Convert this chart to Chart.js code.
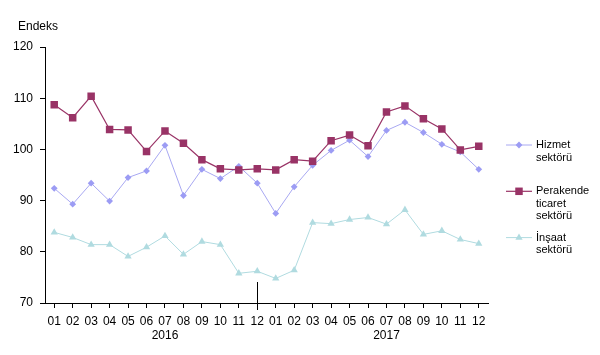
<!DOCTYPE html>
<html>
<head>
<meta charset="utf-8">
<script src="https://cdn.jsdelivr.net/npm/chart.js@4/dist/chart.umd.min.js"></script>
<style>
  html, body { margin: 0; padding: 0; background: #fff; }
  #wrap { width: 600px; height: 355px; position: relative; }
</style>
</head>
<body>
<div id="wrap"><canvas id="c" width="600" height="355"></canvas></div>
<script>
// ---- data ----
const months = ['01','02','03','04','05','06','07','08','09','10','11','12',
                '01','02','03','04','05','06','07','08','09','10','11','12'];
const yearLabels = { 6: '2016', 18: '2017' };
const separatorIndex = 11;
const hizmet = [92.4, 89.3, 93.4, 89.9, 94.5, 95.8, 100.8, 91.0, 96.1, 94.3, 96.7, 93.4,
                87.5, 92.7, 96.9, 99.8, 101.8, 98.6, 103.7, 105.3, 103.3, 101.0, 99.5, 96.1];
const perakende = [108.7, 106.2, 110.4, 103.9, 103.8, 99.6, 103.6, 101.2, 98.0, 96.2, 96.0, 96.2,
                   96.0, 98.0, 97.7, 101.7, 102.8, 100.7, 107.3, 108.5, 106.0, 104.0, 99.9, 100.6];
const insaat = [83.8, 82.8, 81.4, 81.4, 79.1, 80.9, 83.1, 79.5, 82.0, 81.4, 75.8, 76.2,
                74.8, 76.4, 85.7, 85.5, 86.3, 86.7, 85.4, 88.2, 83.4, 84.1, 82.4, 81.6];
const seriesNames = [['Hizmet','sektörü'], ['Perakende','ticaret','sektörü'], ['İnşaat','sektörü']];
const yTitle = 'Endeks';
const yMin = 70, yMax = 120, yStep = 10;

const labels = months.map((m, i) => yearLabels[i] ? [m, yearLabels[i]] : m);

const FONT = '"Liberation Sans", Arial, sans-serif';
const colHiz = '#9c9cf4', colHizLine = '#a8a8f2';
const colPer = '#993366';
const colIns = '#b0dbe0';

const extras = {
  id: 'extras',
  afterDraw(chart) {
    const ctx = chart.ctx;
    const ca = chart.chartArea;
    const xs = chart.scales.x;
    ctx.save();
    // y title
    ctx.fillStyle = '#000';
    ctx.font = '12px ' + FONT;
    ctx.textBaseline = 'middle';
    ctx.textAlign = 'left';
    ctx.fillText(yTitle, 18, 27);
    // year separator
    const sx = Math.round(xs.getPixelForValue(separatorIndex)) + 0.5;
    ctx.strokeStyle = '#000';
    ctx.lineWidth = 1;
    ctx.beginPath();
    ctx.moveTo(sx, ca.bottom - 21);
    ctx.lineTo(sx, ca.bottom + 7);
    ctx.stroke();
    // legend
    const lx0 = ca.right + 18, lx1 = ca.right + 44, tx = ca.right + 48;
    chart.data.datasets.forEach((ds, i) => {
      const y = 145 + i * 46.3;
      ctx.strokeStyle = ds.borderColor;
      ctx.lineWidth = ds.borderWidth;
      ctx.beginPath();
      ctx.moveTo(lx0, y); ctx.lineTo(lx1, y); ctx.stroke();
      const cx = (lx0 + lx1) / 2;
      ctx.fillStyle = ds.pointBackgroundColor;
      ctx.beginPath();
      const r = ds.pointRadius;
      if (ds.pointStyle === 'rect') {
        const s = r * Math.SQRT1_2;
        ctx.rect(cx - s, y - s, 2 * s, 2 * s);
      } else if (ds.pointStyle === 'rectRot') {
        ctx.moveTo(cx - r, y); ctx.lineTo(cx, y - r); ctx.lineTo(cx + r, y); ctx.lineTo(cx, y + r); ctx.closePath();
      } else {
        ctx.moveTo(cx, y - r); ctx.lineTo(cx + r * 0.866, y + r / 2); ctx.lineTo(cx - r * 0.866, y + r / 2); ctx.closePath();
      }
      ctx.fill();
      ctx.fillStyle = '#000';
      ctx.font = '11px ' + FONT;
      seriesNames[i].forEach((t, k) => ctx.fillText(t, tx, y + k * 12.5));
    });
    ctx.restore();
  }
};

new Chart(document.getElementById('c'), {
  type: 'line',
  data: {
    labels: labels,
    datasets: [
      { label: seriesNames[0].join(' '), data: hizmet, borderColor: colHizLine, borderWidth: 1,
        pointStyle: 'rectRot', pointRadius: 3.4, pointBackgroundColor: colHiz, pointBorderWidth: 0,
        pointBorderColor: colHiz, tension: 0, order: 2 },
      { label: seriesNames[1].join(' '), data: perakende, borderColor: colPer, borderWidth: 1.2,
        pointStyle: 'rect', pointRadius: 5.3, pointBackgroundColor: colPer, pointBorderWidth: 0,
        pointBorderColor: colPer, tension: 0, order: 1 },
      { label: seriesNames[2].join(' '), data: insaat, borderColor: colIns, borderWidth: 1,
        pointStyle: 'triangle', pointRadius: 4.2, pointBackgroundColor: colIns, pointBorderWidth: 0,
        pointBorderColor: colIns, tension: 0, order: 3 }
    ]
  },
  options: {
    responsive: false,
    animation: false,
    events: [],
    layout: { padding: { left: 0, right: 112, top: 47, bottom: 0 } },
    plugins: { legend: { display: false }, tooltip: { enabled: false } },
    scales: {
      x: {
        offset: true,
        grid: { display: true, drawOnChartArea: false, drawTicks: true, tickLength: 5, offset: false, color: '#000' },
        border: { display: true, color: '#000', width: 1 },
        ticks: { color: '#000', font: { family: FONT, size: 12 }, padding: 6, maxRotation: 0, autoSkip: false },
        afterFit(s) { s.height = 52; }
      },
      y: {
        min: yMin, max: yMax,
        grid: { display: true, drawOnChartArea: false, drawTicks: true, tickLength: 5, color: '#000' },
        border: { display: true, color: '#000', width: 1 },
        ticks: { stepSize: yStep, color: '#000', font: { family: FONT, size: 12 }, padding: 7 },
        afterFit(s) { s.width = 45; }
      }
    }
  },
  plugins: [extras]
});
</script>
</body>
</html>
